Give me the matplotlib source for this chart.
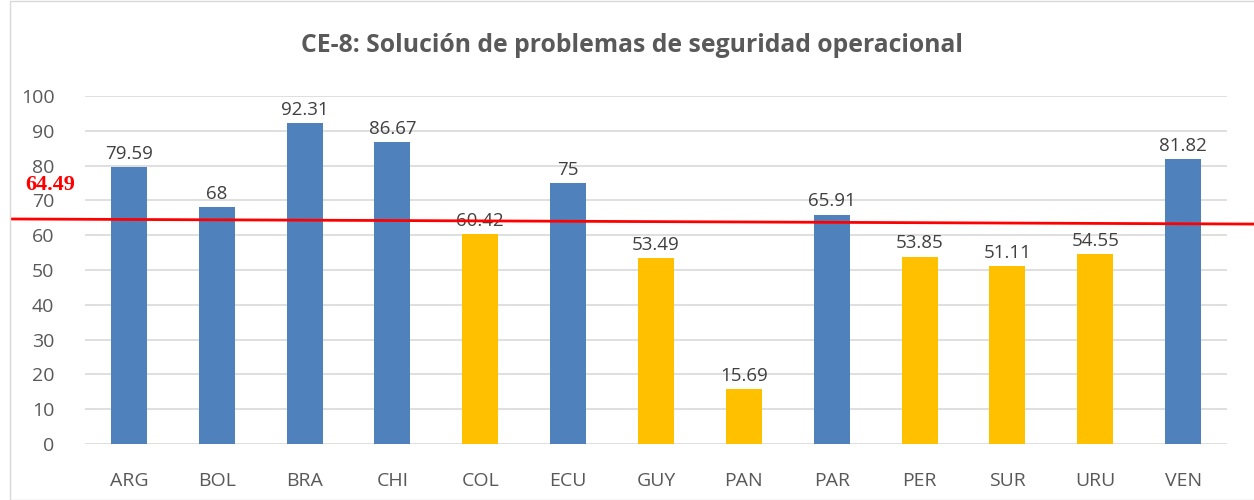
import matplotlib
matplotlib.use("Agg")
import matplotlib.pyplot as plt
from matplotlib.patches import Rectangle

categories = ["ARG", "BOL", "BRA", "CHI", "COL", "ECU", "GUY", "PAN", "PAR", "PER", "SUR", "URU", "VEN"]
values = [79.59, 68, 92.31, 86.67, 60.42, 75, 53.49, 15.69, 65.91, 53.85, 51.11, 54.55, 81.82]
labels = ["79.59", "68", "92.31", "86.67", "60.42", "75", "53.49", "15.69", "65.91", "53.85", "51.11", "54.55", "81.82"]
average = 64.49
title = "CE-8: Solución de problemas de seguridad operacional"

BLUE = "#4F81BD"
GOLD = "#FFC000"
TXT = "#595959"

colors = [BLUE if v >= average else GOLD for v in values]

fig = plt.figure(figsize=(12.54, 5.0), dpi=100)
W, H = 1254, 500
ax = fig.add_axes([85 / W, 1 - 444 / H, (1227 - 85) / W, (444 - 96) / H])

x = list(range(len(categories)))
ax.bar(x, values, width=0.41, color=colors, zorder=3)
for xi, v, lab in zip(x, values, labels):
    ax.text(xi, v + 1.2, lab, ha="center", va="bottom", fontsize=13.5, color="#404040",
            family="Open Sans", zorder=4)

ax.set_xlim(-0.5, len(categories) - 0.5)
ax.set_ylim(0, 100)
ax.set_yticks(range(0, 101, 10))
ax.yaxis.grid(True, color="#D9D9D9", linewidth=1.2, zorder=0)
ax.set_axisbelow(True)
for s in ax.spines.values():
    s.set_visible(False)
ax.tick_params(axis="both", length=0, labelsize=14, labelcolor=TXT)
ax.tick_params(axis="x", pad=20)
ax.tick_params(axis="y", pad=22)
ax.set_xticks(x)
ax.set_xticklabels(categories, family="Open Sans")
for t in ax.get_yticklabels():
    t.set_family("Open Sans")

# average line (hand-drawn, slightly sloped)
ax.plot([-1.33, 12.81], [average + 0.17, average - 1.29], color="#FF0000", linewidth=2,
        clip_on=False, zorder=5)
fig.text(25 / W, 1 - 185 / H, f"{average:.2f}", color="#FF0000", fontsize=16,
         fontweight="bold", family="Liberation Serif", ha="left", va="center")

fig.text(632 / W, 1 - 45 / H, title, ha="center", va="center", fontsize=17.8,
         fontweight="bold", color=TXT, family="Open Sans")

fig.patches.append(Rectangle((10 / W, 0), 1.2, 0.998, transform=fig.transFigure,
                             fill=False, edgecolor="#D9D9D9", linewidth=1))

fig.savefig("out.png", dpi=100)
